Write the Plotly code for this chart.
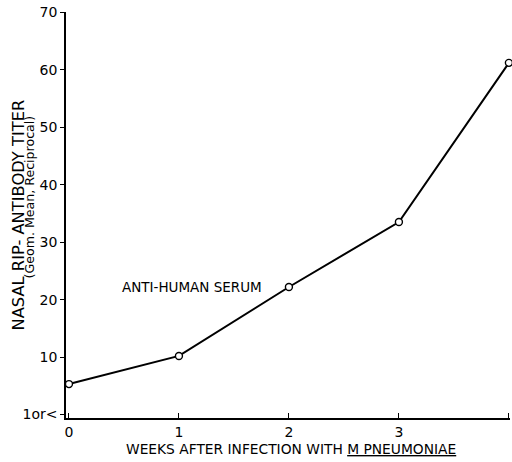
import plotly.graph_objects as go

weeks = [0, 1, 2, 3, 4]
titer = [5.3, 10.2, 22.2, 33.5, 61.2]
x_tick_vals = [0, 1, 2, 3, 4]
x_tick_text = ["0", "1", "2", "3", "4"]
y_tick_vals = [0, 10, 20, 30, 40, 50, 60, 70]
y_tick_text = ["1or<", "10", "20", "30", "40", "50", "60", "70"]

fnt = "DejaVu Sans, Liberation Sans, sans-serif"

L, R, T, B = 66, 2, 12, 44
W, H = 512, 462
pw, ph = W - L - R, H - T - B

def px(xp):
    return (xp - L) / pw

def py(yp):
    return 1 - (yp - T) / ph

fig = go.Figure()
fig.add_trace(go.Scatter(
    x=weeks, y=titer, mode="lines+markers",
    line=dict(color="black", width=2),
    marker=dict(symbol="circle", size=7, color="white", line=dict(width=1.4, color="black")),
    cliponaxis=False, showlegend=False,
))

fig.add_annotation(x=1.12, y=22.2, xref="x", yref="y", text="ANTI-HUMAN SERUM",
                   showarrow=False, xanchor="center", yanchor="middle",
                   font=dict(family=fnt, size=13.5, color="black"))

fig.add_annotation(x=px(17.5), y=py(215), xref="paper", yref="paper",
                   text="NASAL RIP- ANTIBODY TITER", textangle=-90,
                   showarrow=False, xanchor="center", yanchor="middle",
                   font=dict(family=fnt, size=16.3, color="black"))
fig.add_annotation(x=px(29.5), y=py(197), xref="paper", yref="paper",
                   text="(Geom. Mean, Reciprocal)", textangle=-90,
                   showarrow=False, xanchor="center", yanchor="middle",
                   font=dict(family=fnt, size=12.6, color="black"))
fig.add_annotation(x=px(291), y=py(449), xref="paper", yref="paper",
                   text="WEEKS AFTER INFECTION WITH <u>M PNEUMONIAE</u>",
                   showarrow=False, xanchor="center", yanchor="middle",
                   font=dict(family=fnt, size=13.8, color="black"))

fig.update_xaxes(
    range=[-0.027, 4.01], tickvals=x_tick_vals, ticktext=x_tick_text,
    showline=True, linecolor="black", linewidth=1.5, mirror=False,
    ticks="inside", ticklen=5, tickcolor="black", tickwidth=1.2,
    showgrid=False, zeroline=False, automargin=False,
    tickfont=dict(family=fnt, size=14, color="black"),
)
fig.update_yaxes(
    range=[-0.6, 70.05], tickvals=y_tick_vals, ticktext=y_tick_text,
    showline=True, linecolor="black", linewidth=1.5,
    ticks="outside", ticklen=4, tickcolor="black", tickwidth=1.2,
    showgrid=False, zeroline=False, automargin=False,
    tickfont=dict(family=fnt, size=14, color="black"),
)

fig.update_layout(
    width=W, height=H,
    margin=dict(l=L, r=R, t=T, b=B),
    paper_bgcolor="white", plot_bgcolor="white",
)

fig.write_html(
    "out.html",
    config={"responsive": False, "displayModeBar": False},
    post_script="document.body.style.margin='0';document.body.style.overflow='hidden';"
                "document.documentElement.style.overflow='hidden';",
)
